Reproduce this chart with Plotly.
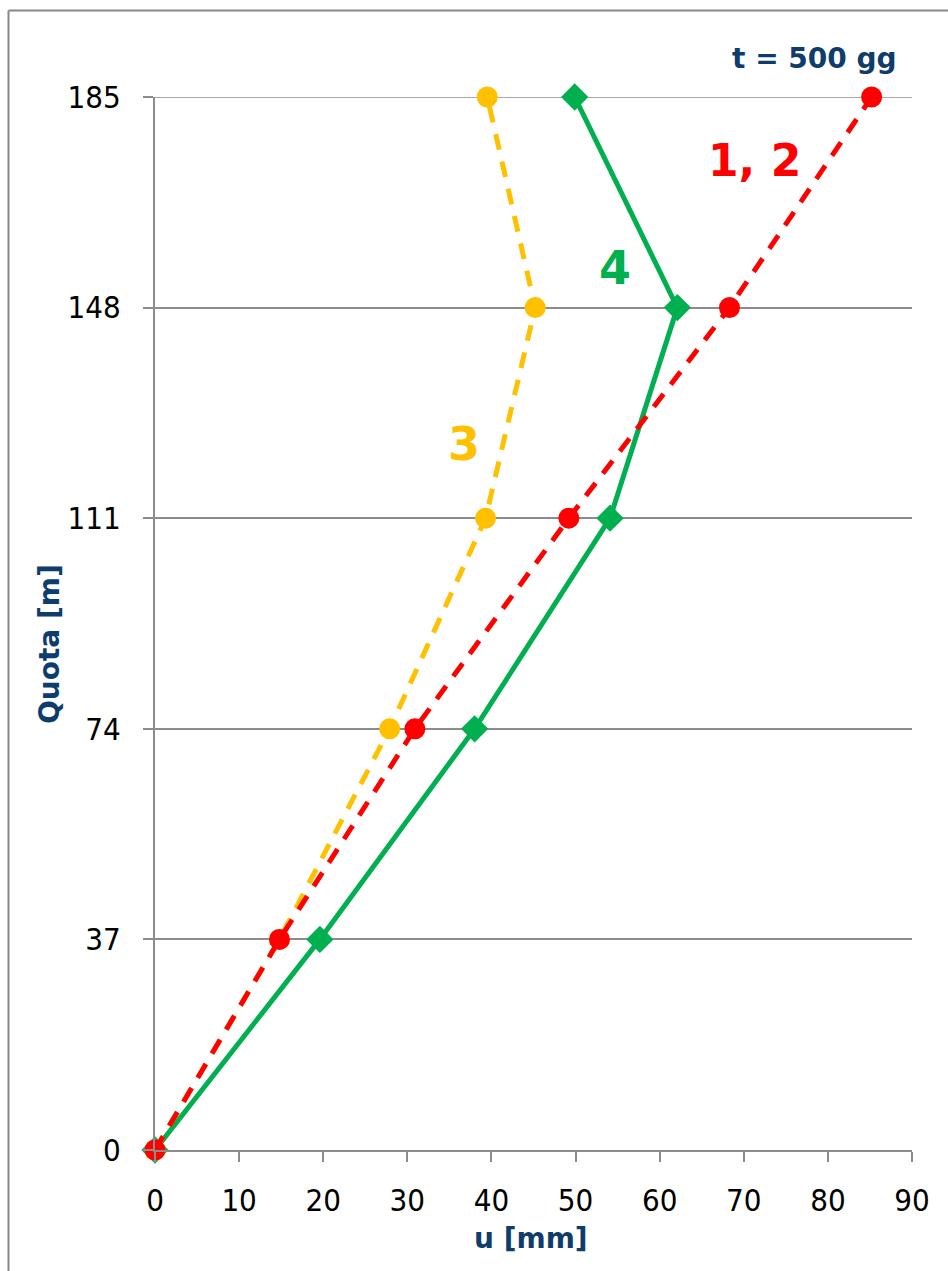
import plotly.graph_objects as go

# Quota levels (m) and horizontal displacement u (mm) for each curve
quota = [0, 37, 74, 111, 148, 185]
u_curve_1_2 = [0, 14.8, 30.9, 49.2, 68.3, 85.2]
u_curve_3 = [0, 14.8, 27.9, 39.3, 45.2, 39.5]
u_curve_4 = [0, 19.6, 38.0, 54.1, 62.1, 49.9]

x_ticks = [0, 10, 20, 30, 40, 50, 60, 70, 80, 90]
y_ticks = [0, 37, 74, 111, 148, 185]

RED = "#FF0000"
GREEN = "#00B050"
YELLOW = "#FFC000"
TITLE_BLUE = "#0E3D6B"
GRID = "#8C8C8C"

TICK_FONT = dict(family="DejaVu Sans Condensed, Liberation Sans Narrow, DejaVu Sans", size=31, color="black")
BOLD_FAMILY = "DejaVu Sans"

fig = go.Figure()

fig.add_trace(go.Scatter(
    x=u_curve_4, y=quota, mode="lines+markers", name="4", cliponaxis=False,
    line=dict(color=GREEN, width=5),
    marker=dict(symbol="diamond", size=21, color=GREEN),
))
fig.add_trace(go.Scatter(
    x=u_curve_3, y=quota, mode="lines+markers", name="3", cliponaxis=False,
    line=dict(color=YELLOW, width=5, dash="16px,12px"),
    marker=dict(symbol="circle", size=21, color=YELLOW),
))
fig.add_trace(go.Scatter(
    x=u_curve_1_2, y=quota, mode="lines+markers", name="1, 2", cliponaxis=False,
    line=dict(color=RED, width=5, dash="16px,12px"),
    marker=dict(symbol="circle", size=21, color=RED),
))

W, H = 948, 1271
L, R, T, B = 155, 36, 97, 121
pw, ph = W - L - R, H - T - B


def px_to_paper(px, py):
    return (px - L) / pw, (H - B - py) / ph


annotations = []


def label(text, px, py, size, color, angle=0):
    x, y = px_to_paper(px, py)
    annotations.append(dict(
        text=f"<b>{text}</b>", x=x, y=y, xref="paper", yref="paper",
        xanchor="center", yanchor="middle", showarrow=False, textangle=angle,
        font=dict(family=BOLD_FAMILY, size=size, color=color),
    ))


label("t = 500 gg", 814, 58, 28, TITLE_BLUE)
label("1, 2", 754, 160, 44, RED)
label("4", 615, 268, 46, GREEN)
label("3", 464, 444, 46, YELLOW)
label("u [mm]", 531, 1238, 28, TITLE_BLUE)
label("Quota [m]", 49, 644, 28, TITLE_BLUE, angle=-90)

# Outer chart frame (left and top edges)
fx0, fy_top = px_to_paper(8.5, 10.5)
fx1, fy_bot = px_to_paper(W + 5, H + 5)
shapes = [
    dict(type="line", xref="paper", yref="paper", x0=fx0, x1=fx0, y0=fy_bot, y1=fy_top,
         line=dict(color="#878787", width=2)),
    dict(type="line", xref="paper", yref="paper", x0=fx0, x1=fx1, y0=fy_top, y1=fy_top,
         line=dict(color="#878787", width=2)),
    # gridline on the top tick, which sits on the edge of the plot area
    dict(type="line", xref="paper", yref="y", x0=0, x1=1, y0=y_ticks[-1], y1=y_ticks[-1],
         line=dict(color=GRID, width=1.5), layer="below"),
]

fig.update_layout(
    width=W, height=H,
    margin=dict(l=L, r=R, t=T, b=B, pad=0),
    paper_bgcolor="white", plot_bgcolor="white",
    showlegend=False,
    annotations=annotations,
    shapes=shapes,
    xaxis=dict(
        range=[0, 90], tickvals=x_ticks, ticktext=[str(v) for v in x_ticks],
        showgrid=False, zeroline=False,
        showline=True, linecolor=GRID, linewidth=2,
        ticks="outside", ticklen=10, tickwidth=2, tickcolor=GRID,
        tickfont=TICK_FONT, ticklabelstandoff=12,
    ),
    yaxis=dict(
        range=[0, 185], tickvals=y_ticks, ticktext=[str(v) for v in y_ticks],
        showgrid=True, gridcolor=GRID, gridwidth=1.5, zeroline=False,
        showline=True, linecolor=GRID, linewidth=2,
        ticks="outside", ticklen=10, tickwidth=2, tickcolor=GRID,
        tickfont=TICK_FONT, ticklabelstandoff=16,
    ),
)

fig.write_html("out.html")
